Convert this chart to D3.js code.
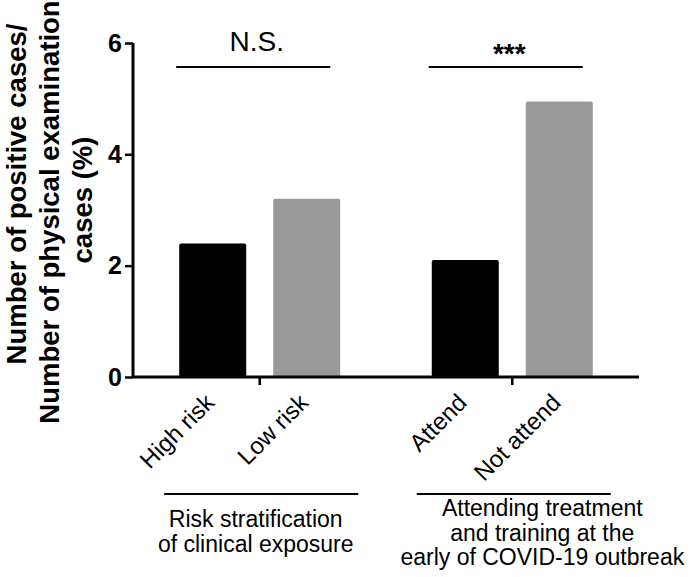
<!DOCTYPE html>
<html>
<head>
<meta charset="utf-8">
<script src="https://cdn.jsdelivr.net/npm/d3@7"></script>
<style>
    body { margin: 0; background: #fff; }
    svg { font-family: Arial, "Liberation Sans", sans-serif; }
</style>
</head>
<body>
<div id="chart"></div>
<script>
// Data
var groups = ["Risk stratification of clinical exposure", "Attending treatment and training"];
var riskCategories = ["High risk", "Low risk"];
var riskValues = [2.4, 3.2];
var attendCategories = ["Attend", "Not attend"];
var attendValues = [2.1, 4.95];
var significance = ["N.S.", "***"];
var groupLabels = [
    ["Risk stratification", "of clinical exposure"],
    ["Attending treatment", "and training at the", "early of COVID-19 outbreak"]
];
var yTicks = [0, 2, 4, 6];
var yTitle = ["Number of positive cases/", "Number of physical examination", "cases (%)"];

var width = 694, height = 577;
var margin = {top: 43, right: 55, bottom: 200, left: 133};
var bracketLevel = 5.57;
var barColors = ["#000000", "#999999"];

var table = [
    {group: groups[0], sig: significance[0], label: groupLabels[0],
        bars: riskCategories.map(function (c, i) { return {name: c, value: riskValues[i]}; })},
    {group: groups[1], sig: significance[1], label: groupLabels[1],
        bars: attendCategories.map(function (c, i) { return {name: c, value: attendValues[i]}; })}
];

var svg = d3.select("#chart")
    .append("svg")
        .attr("width", width)
        .attr("height", height);

// Scales
var x0 = d3.scaleBand()
    .domain(groups)
    .range([margin.left, width - margin.right])
    .paddingInner(0.3624)
    .paddingOuter(0.183);

var x1 = d3.scaleBand()
    .domain([0, 1])
    .range([0, x0.bandwidth()])
    .paddingInner(0.287)
    .paddingOuter(0);

var y = d3.scaleLinear()
    .domain([0, 6])
    .range([height - margin.bottom, margin.top]);

// Bars
var g = svg.selectAll("g.group")
    .data(table)
    .enter().append("g")
        .attr("class", "group")
        .attr("transform", function (d) { return "translate(" + x0(d.group) + ",0)"; });

g.selectAll("rect")
    .data(function (d) { return d.bars; })
    .enter().append("rect")
        .attr("x", function (d, i) { return x1(i); })
        .attr("y", function (d) { return y(d.value); })
        .attr("width", x1.bandwidth())
        .attr("height", function (d) { return y(0) - y(d.value); })
        .attr("rx", 2)
        .attr("fill", function (d, i) { return barColors[i]; });

// Y axis
var yAxis = svg.append("g")
    .attr("transform", "translate(" + margin.left + ",0)")
    .call(d3.axisLeft(y).tickValues(yTicks).tickSize(8).tickPadding(3).tickFormat(d3.format("d")));
yAxis.select(".domain").attr("stroke-width", 3).attr("d", "M0," + y(6) + "V" + y(0));
yAxis.selectAll(".tick line").attr("stroke-width", 2.5);
yAxis.selectAll(".tick text")
    .attr("fill", "#000")
    .style("font-size", "25px")
    .style("font-weight", "bold")
    .style("font-family", "Arial, 'Liberation Sans', sans-serif");

// X axis with ticks between the bars of each group
var xAxis = svg.append("g")
    .attr("transform", "translate(0," + y(0) + ")")
    .call(d3.axisBottom(x0).tickSize(8).tickFormat(""));
xAxis.select(".domain").attr("stroke-width", 3)
    .attr("d", "M" + margin.left + ",0H" + (width - margin.right));
xAxis.selectAll(".tick line").attr("stroke-width", 2.5);

// Rotated bar labels
g.selectAll("text.barlabel")
    .data(function (d) { return d.bars; })
    .enter().append("text")
        .attr("class", "barlabel")
        .attr("text-anchor", "end")
        .attr("transform", function (d, i) {
            return "translate(" + (x1(i) + x1.bandwidth() / 2 + 3) + "," + (y(0) + 27) + ") rotate(-45)";
        })
        .style("font-size", "24px")
        .text(function (d) { return d.name; });

// Significance brackets
g.append("line")
    .attr("x1", -3)
    .attr("x2", x0.bandwidth() - 10)
    .attr("y1", y(bracketLevel))
    .attr("y2", y(bracketLevel))
    .attr("stroke", "#000")
    .attr("stroke-width", 2);

g.append("text")
    .attr("x", x0.bandwidth() / 2 - 3)
    .attr("y", function (d, i) { return i ? 63 : 51; })
    .attr("text-anchor", "middle")
    .style("font-size", "28px")
    .style("font-weight", function (d, i) { return i ? "bold" : "normal"; })
    .text(function (d) { return d.sig; });

// Group lines and labels below the axis
g.append("line")
    .attr("x1", -15)
    .attr("x2", x0.bandwidth() + 18)
    .attr("y1", 494)
    .attr("y2", 494)
    .attr("stroke", "#000")
    .attr("stroke-width", 2);

var labelText = g.append("text")
    .attr("text-anchor", "middle")
    .style("font-size", "23px");

labelText.selectAll("tspan")
    .data(function (d, i) { return d.label.map(function (t) { return {t: t, g: i}; }); })
    .enter().append("tspan")
        .attr("x", function (d) { return x0.bandwidth() / 2 + (d.g ? 30 : -4); })
        .attr("y", function (d, j) { return (d.g ? 516 : 527) + j * 24.5; })
        .text(function (d) { return d.t; });

// Y axis title, one centre per line as in the figure
var titleCentres = [194, 212, 200];
svg.append("g")
    .style("font-size", "27.5px")
    .style("font-weight", "bold")
    .selectAll("text")
    .data(yTitle)
    .enter().append("text")
        .attr("text-anchor", "middle")
        .attr("transform", function (d, i) {
            return "translate(" + (26 + i * 33) + "," + titleCentres[i] + ") rotate(-90)";
        })
        .text(function (d) { return d; });
</script>
</body>
</html>
